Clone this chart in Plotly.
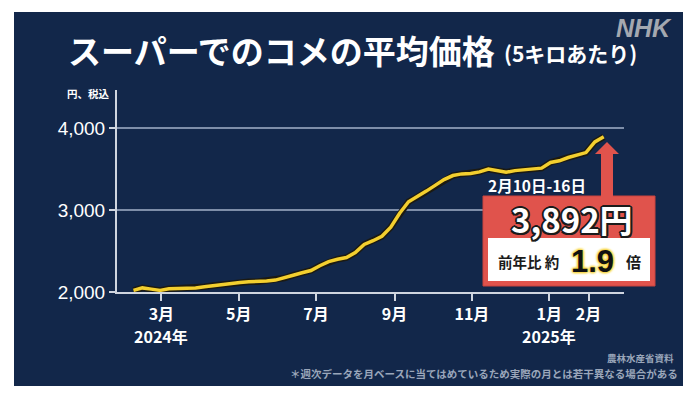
import pandas as pd
import plotly.graph_objects as go

# ---- data (weekly average price, yen per 5kg, tax incl.) ----
week_start = "2024-02-08"
prices = [2020, 2050, 2035, 2020, 2040, 2045, 2040, 2050, 2065, 2080,
          2095, 2105, 2115, 2125, 2125, 2135, 2145, 2170, 2205, 2235,
          2262, 2320, 2370, 2400, 2420, 2480, 2580, 2625, 2680, 2790,
          2960, 3100, 3160, 3230, 3300, 3370, 3420, 3440, 3445, 3465,
          3500, 3480, 3460, 3480, 3490, 3500, 3510, 3580, 3600, 3640,
          3670, 3700, 3830, 3892]
dates = pd.date_range(week_start, periods=len(prices), freq="7D")

tick_dates = ["2024-03-01", "2024-05-01", "2024-07-01", "2024-09-01",
              "2024-11-01", "2025-01-01", "2025-02-01"]
tick_labels = ["3月", "5月", "7月", "9月", "11月", "1月", "2月"]
year_dates = ["2024-03-01", "2025-01-01"]
year_labels = ["2024年", "2025年"]
y_ticks = [2000, 3000, 4000]
y_tick_labels = ["2,000", "3,000", "4,000"]

title = "スーパーでのコメの平均価格"
subtitle = "(5キロあたり)"
unit = "円、税込"
period_label = "2月10日-16日"
latest_label = "3,892円"
ratio_prefix = "前年比 約"
ratio_value = "1.9"
ratio_suffix = "倍"
footnote = "＊週次データを月ベースに当てはめているため実際の月とは若干異なる場合がある"
source = "農林水産省資料"

# ---- layout geometry (pixels) ----
W, H = 700, 397
L, R, T, B = 117, 624, 90, 292
FONT = "Noto Sans CJK JP"
NAVY = "#12274a"
YEL = "#f3cf2f"
RED = "#e0534c"


def px(x):
    return (x - L) / (R - L)


def py(y):
    return (B - y) / (B - T)


fig = go.Figure()
fig.add_trace(go.Scatter(x=dates, y=prices, mode="lines",
                         line=dict(color="#1c1a12", width=6.5),
                         hoverinfo="skip", showlegend=False))
fig.add_trace(go.Scatter(x=dates, y=prices, mode="lines",
                         line=dict(color=YEL, width=3.5),
                         showlegend=False))

shapes = [
    # dark panel
    dict(type="rect", xref="paper", yref="paper", layer="below",
         x0=px(14), x1=px(683), y0=py(386), y1=py(12),
         fillcolor=NAVY, line=dict(width=0)),
    # red box
    dict(type="rect", xref="paper", yref="paper",
         x0=px(483), x1=px(655), y0=py(286), y1=py(196),
         fillcolor=RED, line=dict(color="#c9443e", width=1)),
    # white inner box
    dict(type="rect", xref="paper", yref="paper",
         x0=px(488), x1=px(650), y0=py(281), y1=py(238),
         fillcolor="white", line=dict(width=0)),
]
# arrow
pts = [(601, 197), (601, 154), (595, 154), (607, 142), (619, 154), (613, 154), (613, 197)]
path = "M " + " L ".join(f"{px(a):.5f},{py(b):.5f}" for a, b in pts) + " Z"
shapes.append(dict(type="path", xref="paper", yref="paper", path=path,
                   fillcolor=RED, line=dict(width=0)))

outline = ", ".join(f"{dx}px {dy}px 0 #1b1b1b" for dx, dy in
                    [(2, 0), (-2, 0), (0, 2), (0, -2), (1.5, 1.5), (-1.5, -1.5), (1.5, -1.5), (-1.5, 1.5)])
glow = ", ".join(["0 0 3px #f6d231"] * 4)

ann = [
    dict(text=title, x=px(66), y=py(50), xanchor="left", yanchor="middle",
         font=dict(family=FONT, size=33, color="white", weight="bold")),
    dict(text=subtitle, x=px(502), y=py(53), xanchor="left", yanchor="middle",
         font=dict(family=FONT, size=21, color="white", weight="bold")),
    dict(text="<i>NHK</i>", x=px(674), y=py(28), xanchor="right", yanchor="middle",
         font=dict(family="Liberation Sans", size=25, color="#a4a8b0", weight="bold")),
    dict(text=unit, x=px(112), y=py(93), xanchor="right", yanchor="middle",
         font=dict(family=FONT, size=10.5, color="white", weight="bold")),
    dict(text=period_label, x=px(537), y=py(185), xanchor="center", yanchor="middle",
         font=dict(family=FONT, size=15.5, color="white", weight="bold")),
    dict(text=latest_label, x=px(572), y=py(219), xanchor="center", yanchor="middle",
         font=dict(family=FONT, size=33, color="white", weight="bold", shadow=outline)),
    dict(text=ratio_prefix, x=px(496), y=py(261), xanchor="left", yanchor="middle",
         font=dict(family=FONT, size=14.5, color="#1b1b1b", weight="bold")),
    dict(text=ratio_value, x=px(592), y=py(261), xanchor="center", yanchor="middle",
         font=dict(family="Liberation Sans", size=31, color="#111111", weight="bold", shadow=glow)),
    dict(text=ratio_suffix, x=px(633), y=py(261), xanchor="center", yanchor="middle",
         font=dict(family=FONT, size=15, color="#1b1b1b", weight="bold")),
    dict(text=source, x=px(676), y=py(358), xanchor="right", yanchor="middle",
         font=dict(family=FONT, size=9.5, color="#9aa6ba", weight="bold")),
    dict(text=footnote, x=px(680), y=py(373), xanchor="right", yanchor="middle",
         font=dict(family=FONT, size=10.5, color="#9aa6ba", weight="bold")),
]
for a in ann:
    a.update(xref="paper", yref="paper", showarrow=False)
for d, lab in zip(year_dates, year_labels):
    ann.append(dict(text=lab, x=d, xref="x", y=py(336), yref="paper",
                    xanchor="center", yanchor="middle", showarrow=False,
                    font=dict(family=FONT, size=16, color="white", weight="bold")))

fig.update_layout(
    width=W, height=H,
    margin=dict(l=L, r=W - R, t=T, b=H - B, pad=0),
    paper_bgcolor="white",
    plot_bgcolor="rgba(0,0,0,0)",
    shapes=shapes,
    annotations=ann,
    showlegend=False,
    xaxis=dict(
        type="date",
        range=["2024-01-26", "2025-03-01"],
        tickvals=tick_dates, ticktext=tick_labels,
        tickangle=0, automargin=False,
        showgrid=False, zeroline=False,
        showline=True, linecolor="#cfd5df", linewidth=2,
        ticks="outside", ticklen=7, tickwidth=2, tickcolor="#cfd5df",
        tickfont=dict(family=FONT, size=16, color="white", weight="bold"),
        fixedrange=True,
    ),
    yaxis=dict(
        range=[2000, 4463],
        tickvals=y_ticks, ticktext=y_tick_labels,
        automargin=False,
        showgrid=True, gridcolor="#7e8ea9", gridwidth=1.5,
        zeroline=False,
        showline=True, linecolor="#cfd5df", linewidth=2,
        ticks="outside", ticklen=6, tickwidth=1.5, tickcolor="#cfd5df",
        tickfont=dict(family="Liberation Sans", size=19, color="white"),
        fixedrange=True,
    ),
)

fig.write_html("out.html", config={"displayModeBar": False},
               post_script="document.body.style.margin='0';document.body.style.overflow='hidden';")
